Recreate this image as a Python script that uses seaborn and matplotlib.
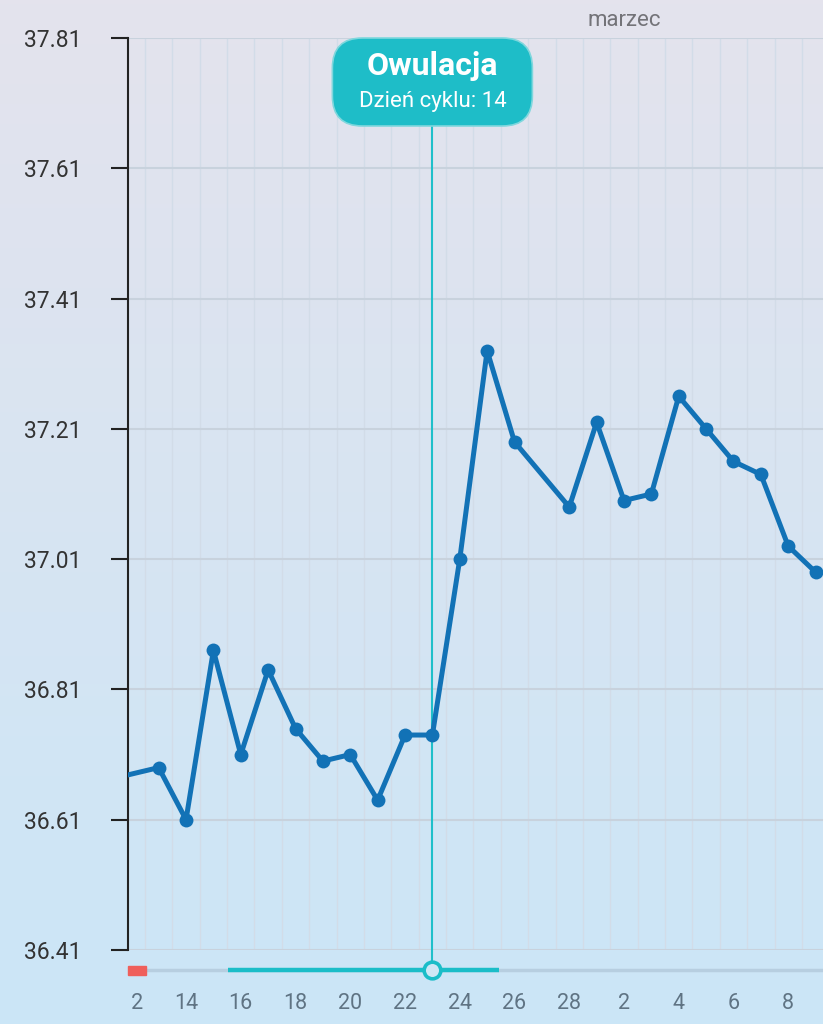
import numpy as np
import pandas as pd
import matplotlib
matplotlib.use("Agg")
import matplotlib.pyplot as plt
import seaborn as sns
from matplotlib.patches import FancyBboxPatch, Rectangle
from matplotlib.transforms import Bbox, TransformedBbox, IdentityTransform, blended_transform_factory

# ---------------- data ----------------
days = [11, 13, 14, 15, 16, 17, 18, 19, 20, 21, 22, 23, 24, 25, 26,
        28, 29, 30, 31, 32, 33, 34, 35, 36, 37]
temps = [36.67, 36.69, 36.61, 36.87, 36.71, 36.84, 36.75, 36.70, 36.71, 36.64,
         36.74, 36.74, 37.01, 37.33, 37.19,
         37.09, 37.22, 37.10, 37.11, 37.26, 37.21, 37.16, 37.14, 37.03, 36.99]
tick_days = [12, 14, 16, 18, 20, 22, 24, 26, 28, 30, 32, 34, 36]
tick_labels = ["12", "14", "16", "18", "20", "22", "24", "26", "28", "2", "4", "6", "8"]
y_ticks = [36.41, 36.61, 36.81, 37.01, 37.21, 37.41, 37.61, 37.81]
ovulation_day = 23
ovulation_title = "Owulacja"
ovulation_sub = "Dzień cyklu: 14"
fertile_window = [15.53, 25.42]
period_mark = [11.88, 12.54]
month_label = "marzec"
month_label_day = 30

df = pd.DataFrame({"day": days, "temp": temps})

plt.rcParams["font.family"] = ["Roboto", "DejaVu Sans"]

W, H = 823, 1024
fig = plt.figure(figsize=(W / 100, H / 100), dpi=100)

# background gradient
bg = fig.add_axes([0, 0, 1, 1], zorder=0)
top = np.array([228, 227, 237]) / 255
bot = np.array([203, 230, 247]) / 255
t = np.linspace(0, 1, 256)[:, None]
grad = (top[None, :] * (1 - t) + bot[None, :] * t)[:, None, :]
bg.imshow(grad, aspect="auto", extent=[0, 1, 0, 1])
bg.axis("off")

# main axes
ax_left, ax_bottom = 128, 74
ax_w, ax_h = W - 128, 912
ax = fig.add_axes([ax_left / W, ax_bottom / H, ax_w / W, ax_h / H], zorder=1)
ax.patch.set_alpha(0)

sns.lineplot(data=df, x="day", y="temp", ax=ax, color="#1272b6", linewidth=3.6,
             marker="o", markersize=10, markeredgewidth=0, zorder=5)

XMIN, XMAX = 11.88, 37.27

# grid
ax.set_xticks(np.arange(12.5, 37.3, 1.0), minor=True)
ax.grid(which="minor", axis="x", color="#d2dce8", linewidth=1.0)
ax.grid(which="major", axis="y", color="#c8d2dd", linewidth=1.5)
ax.set_axisbelow(True)

ax.set_xlabel("")
ax.set_ylabel("")
ax.set_yticks(y_ticks)
ax.set_yticklabels([f"{v:.2f}" for v in y_ticks])
ax.set_xticks(tick_days)
ax.set_xticklabels(tick_labels)
ax.set_xlim(XMIN, XMAX)
ax.set_ylim(36.41, 37.81)
ax.tick_params(axis="y", length=12, width=1.5, color="#222222", pad=21.5,
               labelsize=16.5, labelcolor="#333333")
ax.tick_params(axis="x", which="both", length=0, pad=31, labelsize=15.5,
               labelcolor="#5f7383")

for s in ["top", "right", "bottom"]:
    ax.spines[s].set_visible(False)
ax.spines["left"].set_color("#222222")
ax.spines["left"].set_linewidth(1.5)

# clip x tick labels to the plot's horizontal extent
clipbox = TransformedBbox(Bbox([[4 / ax_w, -0.3], [1, 1.3]]), ax.transAxes)
for tk in ax.xaxis.get_major_ticks():
    tk.label1.set_clip_on(True)
    tk.label1.set_clip_box(clipbox)

blend = blended_transform_factory(ax.transData, ax.transAxes)
slider_y = -20 / ax_h

# slider track
ax.plot([XMIN, XMAX], [slider_y, slider_y], transform=blend, color="#b7cee0",
        linewidth=2.5, clip_on=False, solid_capstyle="butt", zorder=2)
ax.plot(fertile_window, [slider_y, slider_y], transform=blend, color="#1bbdc8",
        linewidth=3.2, clip_on=False, solid_capstyle="butt", zorder=3)
ax.add_patch(Rectangle((period_mark[0], slider_y - 4.5 / ax_h),
                       period_mark[1] - period_mark[0], 9 / ax_h,
                       transform=blend, color="#ef5f5b", clip_on=False, zorder=3))

# ovulation line + knob
box_bottom_frac = (950 - 126) / ax_h
ax.plot([ovulation_day, ovulation_day], [slider_y, box_bottom_frac], transform=blend,
        color="#1fbfca", linewidth=1.5, clip_on=False, zorder=4)
ax.plot([ovulation_day], [slider_y], transform=blend, marker="o", markersize=12,
        markerfacecolor="#cfe7f5", markeredgecolor="#1bbdc8", markeredgewidth=2.6,
        clip_on=False, zorder=6)

# ovulation label box
xp = ax.transData.transform((ovulation_day, 37.0))[0]
box = FancyBboxPatch((xp - 100, H - 126), 200, 88,
                     boxstyle="round,pad=0,rounding_size=30",
                     transform=IdentityTransform(), facecolor="#1ebdc8",
                     edgecolor="#7fd7dd", linewidth=1.2, zorder=7)
fig.patches.append(box)
box.set_figure(fig)
fig.text(xp / W, (H - 66) / H, ovulation_title, ha="center", va="center",
         color="white", fontsize=23, fontweight="bold", zorder=8)
fig.text(xp / W, (H - 102) / H, ovulation_sub, ha="center", va="center",
         color="white", fontsize=16, zorder=8)

# month label
ax.text(month_label_day, 1 + 18 / ax_h, month_label, transform=blend,
        ha="center", va="center", color="#737378", fontsize=16, clip_on=False)

fig.savefig("out.png", dpi=100)
